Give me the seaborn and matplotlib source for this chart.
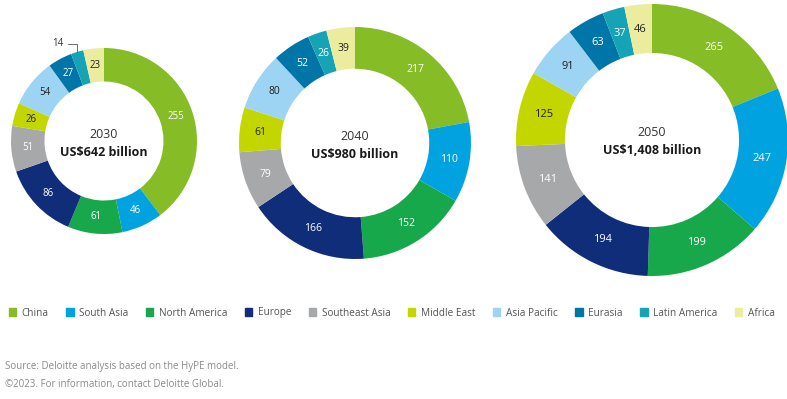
import matplotlib
matplotlib.use("Agg")
import matplotlib.pyplot as plt
import seaborn as sns
import numpy as np

# Data
regions = ["China", "South Asia", "North America", "Europe", "Southeast Asia",
           "Middle East", "Asia Pacific", "Eurasia", "Latin America", "Africa"]
vals_2030 = [255, 46, 61, 86, 51, 26, 54, 27, 14, 23]
vals_2040 = [217, 110, 152, 166, 79, 61, 80, 52, 26, 39]
vals_2050 = [265, 247, 199, 194, 141, 125, 91, 63, 37, 46]
years = ["2030", "2040", "2050"]
totals = ["US$642 billion", "US$980 billion", "US$1,408 billion"]

colors = sns.color_palette(["#86BC25", "#00A3E0", "#17A84B", "#0F2D78", "#A7A8AA",
                            "#C4D600", "#9DD4F3", "#0076A8", "#16A3B5", "#ECEC9E"])
dark_text = {"Middle East", "Asia Pacific", "Africa"}

sns.set_theme(style="white")
plt.rcParams['font.family'] = ['Open Sans', 'DejaVu Sans']

W, H = 787, 399
fig = plt.figure(figsize=(W / 100, H / 100), dpi=100)
ax = fig.add_axes([0, 0, 1, 1])

# layout in pixels (x, y from top), outer radius, label font size
layout = [((104, 141), 93, 7), ((355, 143), 116, 7.5), ((652, 140), 136, 8)]
inner_ratio = 0.64

for vals, year, total, (cen, rad, fs) in zip([vals_2030, vals_2040, vals_2050], years, totals, layout):
    cx, cy = cen[0], H - cen[1]
    width = rad * (1 - inner_ratio)
    wedges, _ = ax.pie(vals, colors=colors, startangle=90, counterclock=False,
                       radius=rad, center=(cx, cy),
                       wedgeprops=dict(width=width, linewidth=0))
    for w, v, reg in zip(wedges, vals, regions):
        mid = np.deg2rad((w.theta1 + w.theta2) / 2)
        tcol = "#222222" if reg in dark_text else "white"
        if year == "2030" and reg == "Latin America":
            # small slice: label outside with a leader line
            ox, oy = cx + rad * np.cos(mid), cy + rad * np.sin(mid)
            ax.annotate(str(v), xy=(ox, oy), xytext=(ox - 14, oy + 8),
                        fontsize=fs, color="#333333", ha="right", va="center",
                        arrowprops=dict(arrowstyle="-", color="#555555", lw=0.6,
                                        connectionstyle="angle,angleA=0,angleB=90,rad=0",
                                        shrinkA=1, shrinkB=0))
            continue
        r = rad - width / 2
        ax.text(cx + r * np.cos(mid), cy + r * np.sin(mid), str(v),
                ha="center", va="center", fontsize=fs, color=tcol)
    ax.text(cx, cy + 7, year, ha="center", va="center", fontsize=9, color="#333333")
    ax.text(cx, cy - 11, total, ha="center", va="center", fontsize=9,
            fontweight="bold", color="#1a1a1a")

ax.set_xlim(0, W)
ax.set_ylim(0, H)
ax.set_aspect("equal")
ax.axis("off")

# legend
handles = [plt.Rectangle((0, 0), 1, 1, color=c) for c in colors]
fig.legend(handles, regions, loc="center left", bbox_to_anchor=(0.002, 1 - 313 / H),
           ncol=10, frameon=False, fontsize=7.2, handlelength=0.75, handleheight=0.75,
           handletextpad=0.55, columnspacing=1.75, labelcolor="#555555",
           borderaxespad=0.3)

fig.text(5 / W, 1 - 367 / H, "Source: Deloitte analysis based on the HyPE model.",
         fontsize=7, color="#8a8a8a", va="center")
fig.text(5 / W, 1 - 384 / H, "\u00a92023. For information, contact Deloitte Global.",
         fontsize=7, color="#8a8a8a", va="center")

fig.savefig("out.png", dpi=100, facecolor="white")
